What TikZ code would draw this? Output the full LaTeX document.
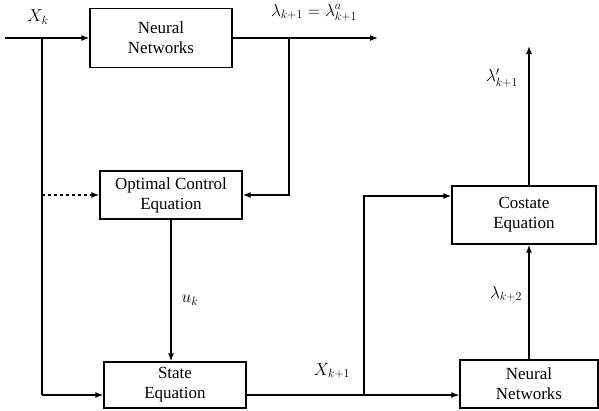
\documentclass[tikz,border=0pt]{standalone}
\usepackage{amsmath}
\usepackage{fontspec}
\setmainfont{Liberation Serif}
\usetikzlibrary{arrows.meta}

\begin{document}
\begin{tikzpicture}[
  x=1pt, y=-1pt,
  box/.style={draw, line width=1.3pt, align=center, minimum width=142pt, minimum height=48pt, inner sep=0pt, font=\fontsize{17}{20}\selectfont},
  arrow/.style={-{Latex[length=8pt,width=6pt]}, line width=1.3pt},
  line/.style={line width=1.3pt},
  label/.style={font=\fontsize{17}{20}\selectfont, inner sep=1pt}
]
\useasboundingbox (0,0) rectangle (599,410);
\node[box, minimum height=59pt] (nn) at (161,38) {Neural\\Networks};
\node[box] (oce) at (171,195) {Optimal Control\\Equation};
\node[box, minimum height=46pt] (state) at (175,385) {State\\Equation};
\node[box, minimum width=138pt] (nn2) at (529,384) {Neural\\Networks};
\node[box, minimum width=144pt, minimum height=58pt] (costate) at (524,215) {Costate\\Equation};

\coordinate (in) at (5,38);
\coordinate (split) at (42,38);
\coordinate (out) at (378,38);
\coordinate (fb) at (289,38);
\coordinate (jn) at (364,395);
\coordinate (lam) at (529,46);

\draw[arrow] (in) -- (nn);
\draw[arrow] (nn) -- (out);
\draw[arrow] (fb) |- (oce);
\draw[line] (split) -- (42,395);
\draw[arrow] (42,395) -- ([yshift=-10pt]state.west);
\draw[arrow, dashed] (42,195) -- (oce);
\draw[arrow] (oce) -- (oce.south |- state.north);
\draw[arrow] ([yshift=-10pt]state.east) -- ([yshift=-11pt]nn2.west);
\draw[arrow] (jn) |- ([yshift=19pt]costate.west);
\draw[arrow] (nn2) -- (nn2.north |- costate.south);
\draw[arrow] (costate.north -| nn2.north) -- (lam);

\node[label] (xk) at (38,17) {$X_k$};
\node[label] (lk1) at (314,13) {$\lambda_{k+1}=\lambda^{a}_{k+1}$};
\node[label] (uk) at (190,300) {$u_k$};
\node[label] (xk1) at (332,371) {$X_{k+1}$};
\node[label] (lk2) at (506,294) {$\lambda_{k+2}$};
\node[label] (lp) at (502,78) {$\lambda'_{k+1}$};
\end{tikzpicture}
\end{document}
